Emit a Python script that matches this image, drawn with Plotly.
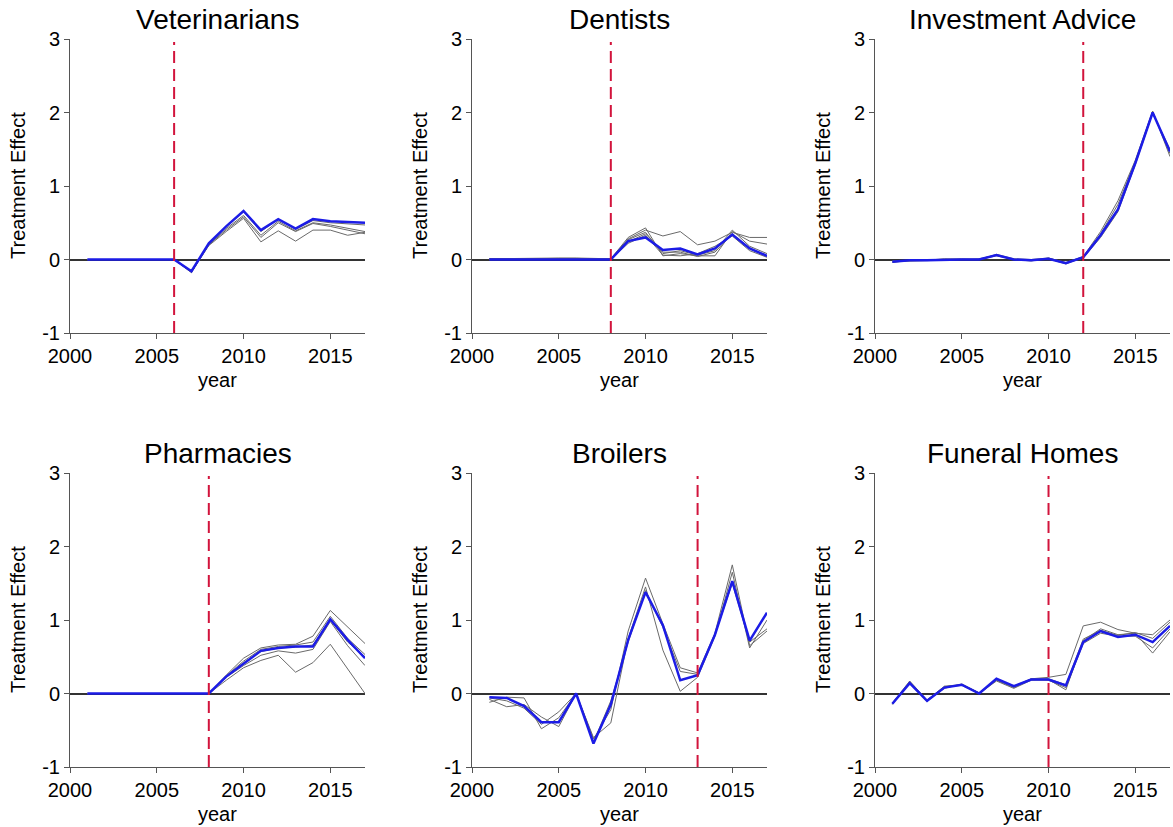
import plotly.graph_objects as go

years = list(range(2001, 2018))

titles = ["Veterinarians", "Dentists", "Investment Advice",
          "Pharmacies", "Broilers", "Funeral Homes"]
treat_years = [2006, 2008, 2012, 2008, 2013, 2010]

# ---- Veterinarians ----
vet_blue = [0, 0, 0, 0, 0, 0, -0.16, 0.22, 0.45, 0.66, 0.40, 0.55, 0.42, 0.55, 0.52, 0.51, 0.50]
vet_g1 = [0, 0, 0, 0, 0, 0, -0.18, 0.22, 0.45, 0.65, 0.38, 0.55, 0.41, 0.53, 0.50, 0.48, 0.47]
vet_g2 = [0, 0, 0, 0, 0, 0, -0.17, 0.20, 0.42, 0.60, 0.33, 0.52, 0.39, 0.50, 0.47, 0.43, 0.38]
vet_g3 = [0, 0, 0, 0, 0, 0, -0.17, 0.19, 0.38, 0.56, 0.24, 0.39, 0.25, 0.40, 0.40, 0.33, 0.37]
vet_g4 = [0, 0, 0, 0, 0, 0, -0.17, 0.20, 0.40, 0.58, 0.30, 0.50, 0.38, 0.49, 0.45, 0.40, 0.35]

# ---- Dentists ----
den_blue = [0.0, 0.0, -0.005, -0.005, -0.005, -0.003, 0.0, 0.0, 0.25, 0.30, 0.13, 0.15, 0.07, 0.15, 0.34, 0.15, 0.05]
den_g1 = [0.01, 0.015, 0.02, 0.02, 0.02, 0.02, 0.02, 0.01, 0.28, 0.40, 0.32, 0.38, 0.20, 0.25, 0.37, 0.30, 0.30]
den_g2 = [0.01, 0.01, 0.015, 0.02, 0.02, 0.02, 0.015, 0.01, 0.30, 0.43, 0.05, 0.08, 0.05, 0.05, 0.38, 0.25, 0.21]
den_g3 = [0.005, 0.01, 0.01, 0.015, 0.015, 0.015, 0.01, 0.005, 0.27, 0.37, 0.08, 0.12, 0.06, 0.12, 0.40, 0.18, 0.08]
den_g4 = [0.005, 0.005, 0.01, 0.01, 0.01, 0.01, 0.01, 0.0, 0.24, 0.35, 0.10, 0.10, 0.04, 0.10, 0.35, 0.15, 0.04]
den_g5 = [0.0, 0.005, 0.005, 0.01, 0.01, 0.01, 0.005, 0.0, 0.22, 0.33, 0.06, 0.05, 0.08, 0.18, 0.32, 0.12, 0.03]

# ---- Investment Advice ----
inv_blue = [-0.03, -0.01, -0.01, 0.0, 0.0, 0.0, 0.06, 0.0, -0.01, 0.01, -0.05, 0.03, 0.33, 0.68, 1.31, 2.00, 1.47]
inv_g1 = [-0.02, -0.01, 0.0, 0.0, 0.01, 0.0, 0.07, 0.01, 0.0, 0.02, -0.04, 0.04, 0.38, 0.80, 1.35, 2.02, 1.40]
inv_g2 = [-0.03, -0.02, -0.01, 0.0, 0.0, 0.0, 0.05, 0.0, -0.01, 0.01, -0.06, 0.03, 0.35, 0.75, 1.33, 2.01, 1.44]
inv_g3 = [-0.04, -0.01, -0.01, 0.01, 0.0, 0.01, 0.06, 0.0, -0.02, 0.02, -0.05, 0.02, 0.30, 0.65, 1.29, 1.99, 1.50]

# ---- Pharmacies ----
pha_blue = [0, 0, 0, 0, 0, 0, 0, 0, 0.23, 0.41, 0.58, 0.62, 0.64, 0.64, 1.01, 0.73, 0.48]
pha_g1 = [0, 0, 0, 0, 0, 0, 0, 0, 0.25, 0.48, 0.62, 0.66, 0.67, 0.78, 1.13, 0.90, 0.68]
pha_g2 = [0, 0, 0, 0, 0, 0, 0, 0, 0.18, 0.35, 0.45, 0.52, 0.29, 0.42, 0.67, 0.33, 0.0]
pha_g3 = [0, 0, 0, 0, 0, 0, 0, 0, 0.22, 0.38, 0.52, 0.58, 0.55, 0.60, 0.98, 0.65, 0.38]
pha_g4 = [0, 0, 0, 0, 0, 0, 0, 0, 0.24, 0.44, 0.60, 0.64, 0.66, 0.70, 1.05, 0.75, 0.53]
pha_g5 = [0, 0, 0, 0, 0, 0, 0, 0, 0.23, 0.42, 0.57, 0.62, 0.63, 0.66, 1.00, 0.70, 0.50]

# ---- Broilers ----
bro_blue = [-0.05, -0.06, -0.17, -0.39, -0.39, 0.0, -0.68, -0.15, 0.73, 1.38, 0.93, 0.18, 0.25, 0.80, 1.53, 0.72, 1.10]
bro_g1 = [-0.12, -0.05, -0.06, -0.48, -0.33, 0.0, -0.62, -0.22, 0.85, 1.57, 0.95, 0.35, 0.28, 0.82, 1.75, 0.65, 0.85]
bro_g2 = [-0.08, -0.18, -0.15, -0.32, -0.45, 0.0, -0.60, -0.40, 0.75, 1.45, 0.59, 0.03, 0.22, 0.78, 1.65, 0.62, 1.00]
bro_g3 = [-0.06, -0.10, -0.20, -0.42, -0.25, 0.0, -0.66, -0.10, 0.70, 1.40, 0.90, 0.30, 0.26, 0.80, 1.50, 0.70, 0.88]

# ---- Funeral Homes ----
fun_blue = [-0.14, 0.14, -0.10, 0.08, 0.12, 0.0, 0.20, 0.10, 0.19, 0.19, 0.11, 0.70, 0.85, 0.77, 0.80, 0.70, 0.92]
fun_g1 = [-0.13, 0.17, -0.09, 0.10, 0.12, 0.01, 0.18, 0.08, 0.20, 0.22, 0.26, 0.92, 0.97, 0.87, 0.82, 0.80, 1.00]
fun_g2 = [-0.14, 0.15, -0.11, 0.09, 0.11, 0.0, 0.17, 0.07, 0.18, 0.19, 0.05, 0.72, 0.88, 0.80, 0.82, 0.55, 0.84]
fun_g3 = [-0.15, 0.16, -0.10, 0.07, 0.13, 0.01, 0.19, 0.09, 0.19, 0.18, 0.08, 0.68, 0.82, 0.78, 0.78, 0.62, 0.88]
fun_g4 = [-0.13, 0.15, -0.09, 0.09, 0.12, 0.0, 0.19, 0.10, 0.20, 0.20, 0.12, 0.74, 0.86, 0.79, 0.83, 0.75, 0.97]

blues = [vet_blue, den_blue, inv_blue, pha_blue, bro_blue, fun_blue]
grays = [
    [vet_g1, vet_g2, vet_g3, vet_g4],
    [den_g1, den_g2, den_g3, den_g4, den_g5],
    [inv_g1, inv_g2, inv_g3],
    [pha_g1, pha_g2, pha_g3, pha_g4, pha_g5],
    [bro_g1, bro_g2, bro_g3],
    [fun_g1, fun_g2, fun_g3, fun_g4],
]

x_ticks = [2000, 2005, 2010, 2015]
y_ticks = [-1, 0, 1, 2, 3]
y_tick_labels = ["-1", "0", "1", "2", "3"]
x_range = [2000, 2017]
y_range = [-1, 3]

W, H = 1173, 827
col_px = [(70, 365), (472, 767), (875, 1170)]
row_px = [(39, 333), (473, 767)]

FONT = "Liberation Sans, Arial, Helvetica, sans-serif"
BLUE = "#1c1ce6"
GRAY = "#6a6a6a"
RED = "#d2143c"

fig = go.Figure()
annotations = []

for i in range(6):
    r, c = divmod(i, 3)
    idx = "" if i == 0 else str(i + 1)
    xa, ya = "x" + idx, "y" + idx
    x0, x1 = col_px[c]
    yt, yb = row_px[r]
    xdom = [x0 / W, x1 / W]
    ydom = [1 - yb / H, 1 - yt / H]

    fig.layout["xaxis" + idx] = dict(
        domain=xdom, range=x_range, anchor=ya, tickvals=x_ticks,
        showgrid=False, zeroline=False, showline=True, linecolor="#555555",
        linewidth=1, ticks="outside", ticklen=5, tickcolor="#555555",
        tickfont=dict(family=FONT, size=20, color="black"), fixedrange=True)
    fig.layout["yaxis" + idx] = dict(
        domain=ydom, range=y_range, anchor=xa, tickvals=y_ticks,
        ticktext=y_tick_labels,
        showgrid=False, zeroline=True, zerolinecolor="#333333", zerolinewidth=1.5,
        showline=True, linecolor="#555555", linewidth=1, ticks="outside",
        ticklen=5, tickcolor="#555555",
        tickfont=dict(family=FONT, size=20, color="black"), fixedrange=True)

    for g in grays[i]:
        fig.add_trace(go.Scatter(x=years, y=g, mode="lines", xaxis=xa, yaxis=ya,
                                 line=dict(color=GRAY, width=1), showlegend=False,
                                 hoverinfo="skip"))
    fig.add_trace(go.Scatter(x=years, y=blues[i], mode="lines", xaxis=xa, yaxis=ya,
                             line=dict(color=BLUE, width=2.5), showlegend=False))
    ty = treat_years[i]
    fig.add_trace(go.Scatter(x=[ty, ty], y=[y_range[0], 2.96], mode="lines",
                             xaxis=xa, yaxis=ya,
                             line=dict(color=RED, width=2, dash="12px,6px"),
                             showlegend=False, hoverinfo="skip"))

    xc = (xdom[0] + xdom[1]) / 2
    yc = (ydom[0] + ydom[1]) / 2
    # title
    annotations.append(dict(text=titles[i], xref="paper", yref="paper",
                            x=xc, y=ydom[1] + 19 / H, xanchor="center", yanchor="middle",
                            showarrow=False, font=dict(family=FONT, size=28, color="black")))
    # x-axis title
    annotations.append(dict(text="year", xref="paper", yref="paper",
                            x=xc, y=ydom[0] - 47 / H, xanchor="center", yanchor="middle",
                            showarrow=False, font=dict(family=FONT, size=20, color="black")))
    # y-axis title
    annotations.append(dict(text="Treatment Effect", xref="paper", yref="paper",
                            x=xdom[0] - 52 / W, y=yc, xanchor="center", yanchor="middle",
                            textangle=-90, showarrow=False,
                            font=dict(family=FONT, size=20, color="black")))

fig.update_layout(
    width=W, height=H, margin=dict(l=0, r=0, t=0, b=0, pad=0, autoexpand=False),
    paper_bgcolor="white", plot_bgcolor="white",
    annotations=annotations, showlegend=False,
)

fig.write_html("out.html")
